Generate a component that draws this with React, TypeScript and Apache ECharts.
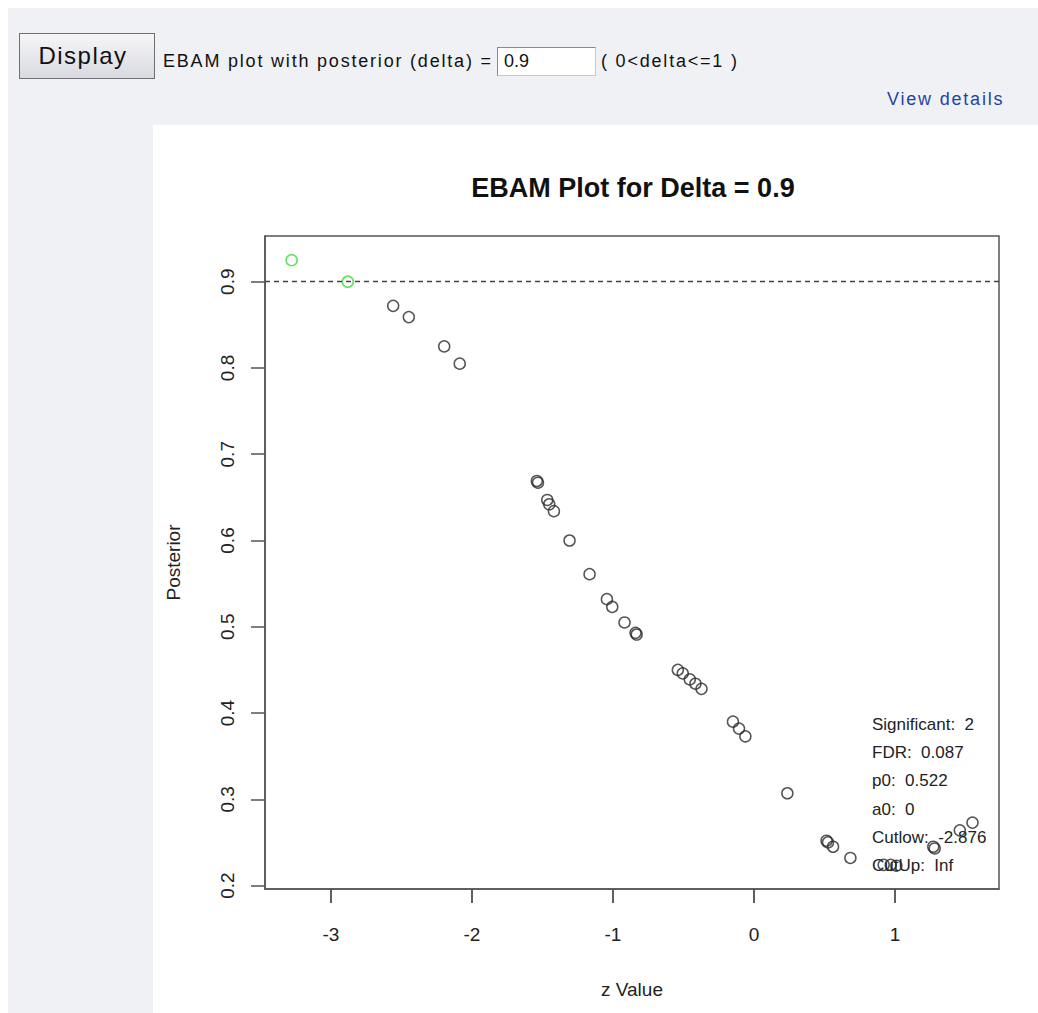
import React, { useEffect, useRef } from "react";
import * as echarts from "echarts";

// ---- data ----
const sigZ = [-3.279, -2.881];
const sigP = [0.925, 0.9];

const otherZ = [
  -2.559, -2.448, -2.197, -2.087,
  -1.54, -1.532, -1.466, -1.452, -1.419,
  -1.308, -1.166, -1.043, -1.005, -0.918, -0.84, -0.832,
  -0.54, -0.505, -0.455, -0.415, -0.372,
  -0.149, -0.106, -0.061,
  0.237,
  0.515, 0.525, 0.561, 0.684,
  0.92, 0.97, 1.01,
  1.272, 1.282, 1.46, 1.55,
];
const otherP = [
  0.872, 0.859, 0.825, 0.805,
  0.669, 0.667, 0.647, 0.642, 0.634,
  0.6, 0.561, 0.532, 0.523, 0.505, 0.493, 0.491,
  0.45, 0.446, 0.439, 0.434, 0.428,
  0.39, 0.382, 0.373,
  0.307,
  0.252, 0.25, 0.245, 0.232,
  0.224, 0.224, 0.223,
  0.245, 0.243, 0.264, 0.273,
];

const xTicks = [-3, -2, -1, 0, 1];
const yTicks = [0.2, 0.3, 0.4, 0.5, 0.6, 0.7, 0.8, 0.9];
const deltaValue = 0.9;
const xRange = [-3.468, 1.738];
const yRange = [0.196, 0.953];

const infoLines = [
  "Significant:  2",
  "FDR:  0.087",
  "p0:  0.522",
  "a0:  0",
  "Cutlow:  -2.876",
  "CutUp:  Inf",
];

const FONT = "'Liberation Sans', Arial, Helvetica, sans-serif";
const GRAY = "#f0f1f5";

function Chart() {
  const ref = useRef<HTMLDivElement>(null);
  useEffect(() => {
    if (!ref.current) return;
    const chart = echarts.init(ref.current, undefined, { renderer: "svg" });
    const gridLeft = 112;
    const gridTop = 111;
    const gridW = 734;
    const gridH = 653;
    const infoX = 719;
    const infoY0 = 599;
    const infoStep = 28.35;
    const ls = () => ({ color: "#555", width: 1.5 });
    const infoGraphics = infoLines.map((t, i) => ({
      id: "info" + i,
      type: "text",
      x: infoX,
      y: infoY0 + i * infoStep,
      style: {
        text: t,
        fontFamily: FONT,
        fontSize: 17,
        fill: "#222",
        verticalAlign: "middle",
        align: "left",
      },
    }));
    chart.setOption({
      animation: false,
      backgroundColor: "#ffffff",
      title: {
        text: `EBAM Plot for Delta = ${deltaValue}`,
        left: gridLeft + gridW / 2 - 4,
        textAlign: "center",
        top: 44,
        textStyle: { fontFamily: FONT, fontSize: 27, fontWeight: "bold", color: "#111" },
      },
      grid: {
        left: gridLeft,
        top: gridTop,
        width: gridW,
        height: gridH,
        show: true,
        borderColor: "#555",
        borderWidth: 1.5,
        backgroundColor: "transparent",
      },
      xAxis: {
        type: "value",
        position: "bottom",
        min: xRange[0],
        max: xRange[1],
        name: "z Value",
        nameLocation: "middle",
        nameGap: 91,
        nameTextStyle: { fontFamily: FONT, fontSize: 19, color: "#222" },
        axisLine: { show: true, onZero: false, lineStyle: ls() },
        splitLine: { show: false },
        axisTick: {
          show: true,
          inside: false,
          length: 14,
          customValues: xTicks,
          lineStyle: ls(),
        },
        axisLabel: {
          customValues: xTicks,
          margin: 36,
          fontFamily: FONT,
          fontSize: 19,
          color: "#222",
          formatter: (v: number) => String(v),
        },
      },
      yAxis: {
        type: "value",
        position: "left",
        min: yRange[0],
        max: yRange[1],
        name: "Posterior",
        nameLocation: "middle",
        nameGap: 82,
        nameRotate: 90,
        nameTextStyle: { fontFamily: FONT, fontSize: 19, color: "#222" },
        axisLine: { show: true, onZero: false, lineStyle: ls() },
        splitLine: { show: false },
        axisTick: {
          show: true,
          inside: false,
          length: 14,
          customValues: yTicks,
          lineStyle: ls(),
        },
        axisLabel: {
          customValues: yTicks,
          rotate: 90,
          margin: 28,
          fontFamily: FONT,
          fontSize: 19,
          color: "#222",
          formatter: (v: number) => v.toFixed(1),
        },
      },
      series: [
        {
          type: "scatter",
          name: "genes",
          symbol: "circle",
          symbolSize: 11,
          data: otherZ.map((z, i) => [z, otherP[i]]),
          itemStyle: { color: "transparent", borderColor: "#2a2a2a", borderWidth: 1.5 },
          markLine: {
            silent: true,
            symbol: "none",
            label: { show: false },
            lineStyle: { color: "#444", width: 1.4, type: [5, 4] },
            data: [{ yAxis: deltaValue }],
          },
        },
        {
          type: "scatter",
          name: "significant",
          symbol: "circle",
          symbolSize: 11,
          data: sigZ.map((z, i) => [z, sigP[i]]),
          itemStyle: { color: "transparent", borderColor: "#3fd93f", borderWidth: 1.6 },
        },
      ],
      graphic: infoGraphics,
    });

    // x-axis tick marks, placed through the chart's own x scale
    const tickGraphics = xTicks.map((v, i) => {
      const p = chart.convertToPixel({ gridIndex: 0 }, [v, yRange[0]]) as number[];
      return {
        id: "xtick" + i,
        type: "line",
        z: 10,
        shape: { x1: p[0], y1: p[1], x2: p[0], y2: p[1] + 14 },
        style: { stroke: "#555", lineWidth: 1.5 },
        silent: true,
      };
    });
    chart.setOption({ graphic: [...infoGraphics, ...tickGraphics] });

    return () => chart.dispose();
  }, []);
  return (
    <div
      ref={ref}
      style={{ position: "absolute", left: 153, top: 125, width: 885, height: 888 }}
    />
  );
}

const topText: React.CSSProperties = {
  position: "absolute",
  top: 49,
  fontSize: 18,
  letterSpacing: 1.8,
  color: "#111",
  whiteSpace: "nowrap",
  lineHeight: "24px",
};

export default function App() {
  return (
    <div
      style={{
        position: "absolute",
        left: 0,
        top: 0,
        width: 1038,
        height: 1013,
        background: "#ffffff",
        overflow: "hidden",
        fontFamily: FONT,
      }}
    >
      <div style={{ position: "absolute", left: 8, top: 8, width: 1030, height: 1005, background: GRAY }} />
      <div
        style={{
          position: "absolute",
          left: 19,
          top: 33,
          width: 136,
          height: 46,
          boxSizing: "border-box",
          border: "1px solid #6e6e74",
          background: "linear-gradient(#f6f6f8, #d9dae0)",
          display: "flex",
          alignItems: "center",
          justifyContent: "center",
          fontSize: 24,
          color: "#111",
          letterSpacing: 1.5,
          paddingRight: 8,
        }}
      >
        Display
      </div>
      <div style={{ ...topText, left: 163 }}>EBAM plot with posterior (delta) =</div>
      <div
        style={{
          position: "absolute",
          left: 497,
          top: 47,
          width: 99,
          height: 29,
          background: "#fff",
          borderTop: "1px solid #8a8a8a",
          borderLeft: "1px solid #8a8a8a",
          borderRight: "1px solid #c8c8c8",
          borderBottom: "1px solid #c8c8c8",
          fontSize: 18,
          lineHeight: "27px",
          paddingLeft: 6,
          boxSizing: "border-box",
          color: "#111",
        }}
      >
        {deltaValue}
      </div>
      <div style={{ ...topText, left: 601 }}>( 0&lt;delta&lt;=1 )</div>
      <div style={{ ...topText, left: 887, top: 87, color: "#1f44a8" }}>View details</div>
      <Chart />
    </div>
  );
}
